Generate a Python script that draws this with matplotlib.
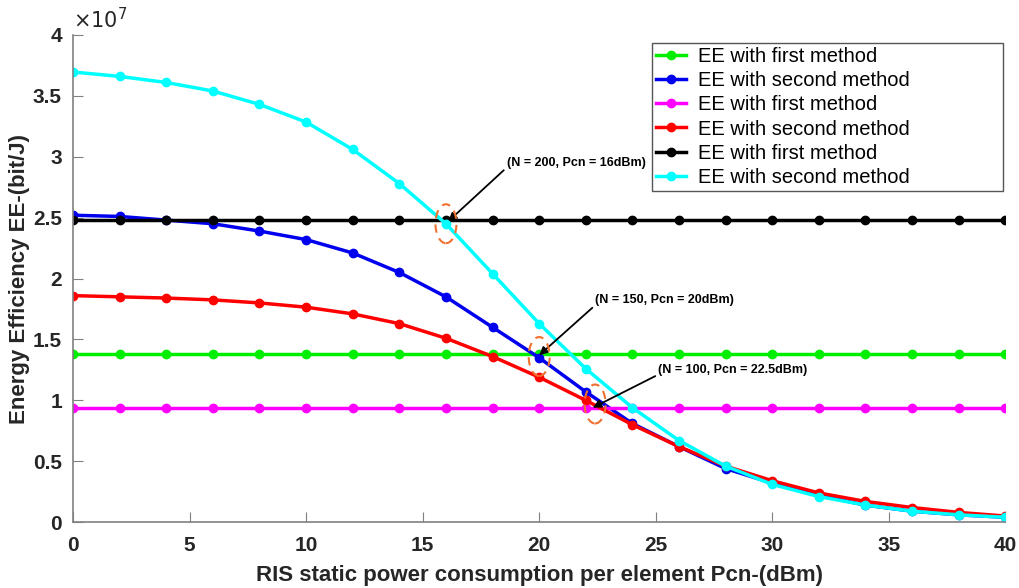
import matplotlib
matplotlib.use('Agg')
import matplotlib.pyplot as plt
from matplotlib.patches import Ellipse
from matplotlib.ticker import FuncFormatter

plt.rcParams['font.family'] = ['Liberation Sans', 'DejaVu Sans']

# RIS static power per element (dBm)
pcn = [0, 2, 4, 6, 8, 10, 12, 14, 16, 18, 20, 22, 24, 26, 28, 30, 32, 34, 36, 38, 40]

# energy efficiency, bit/J
ee_first_100 = [0.94e7] * len(pcn)
ee_first_150 = [1.38e7] * len(pcn)
ee_first_200 = [2.48e7] * len(pcn)
ee_second_100 = [1.86e7, 1.85e7, 1.84e7, 1.825e7, 1.80e7, 1.765e7, 1.71e7, 1.63e7, 1.51e7, 1.36e7,
                 1.19e7, 1.00e7, 0.80e7, 0.62e7, 0.46e7, 0.34e7, 0.24e7, 0.17e7, 0.12e7, 0.08e7, 0.05e7]
ee_second_150 = [2.52e7, 2.51e7, 2.48e7, 2.45e7, 2.39e7, 2.32e7, 2.21e7, 2.05e7, 1.85e7, 1.60e7,
                 1.35e7, 1.07e7, 0.81e7, 0.62e7, 0.44e7, 0.32e7, 0.22e7, 0.14e7, 0.09e7, 0.06e7, 0.04e7]
ee_second_200 = [3.696e7, 3.66e7, 3.61e7, 3.54e7, 3.43e7, 3.285e7, 3.06e7, 2.78e7, 2.45e7, 2.04e7,
                 1.63e7, 1.26e7, 0.94e7, 0.67e7, 0.46e7, 0.31e7, 0.21e7, 0.14e7, 0.09e7, 0.06e7, 0.04e7]

series = [
    (ee_first_150, '#00ee00', 'EE with first method'),
    (ee_second_150, '#0000ee', 'EE with second method'),
    (ee_first_100, '#ff00ff', 'EE with first method'),
    (ee_second_100, '#ff0000', 'EE with second method'),
    (ee_first_200, '#000000', 'EE with first method'),
    (ee_second_200, '#00ffff', 'EE with second method'),
]

# annotations: text position, arrow target
notes = [
    ('(N = 200, Pcn = 16dBm)', (18.6, 2.95e7), (16.1, 2.47e7)),
    ('(N = 150, Pcn = 20dBm)', (22.4, 1.82e7), (20.0, 1.37e7)),
    ('(N = 100, Pcn = 22.5dBm)', (25.1, 1.25e7), (22.3, 0.94e7)),
]
circles = [(16.0, 2.45e7), (20.0, 1.36e7), (22.4, 0.97e7)]

fig = plt.figure(figsize=(10.2, 5.88), dpi=100)
ax = fig.add_axes([0.0716, 0.112, 0.914, 0.8285])

for vals, c, lab in series:
    ax.plot(pcn, vals, color=c, lw=2.5, marker='o', ms=6, label=lab)

for cx, cy in circles:
    ax.add_patch(Ellipse((cx, cy), 0.9, 0.32e7, fill=False, ec='#f07030',
                         lw=1.5, ls=(0, (4, 3)), zorder=5))

for txt, xy_t, xy_a in notes:
    ax.annotate(txt, xy=xy_a, xytext=xy_t, fontsize=9, fontweight='bold',
                ha='left', va='center',
                arrowprops=dict(arrowstyle='-|>', color='black', lw=1.3,
                                mutation_scale=12, shrinkA=0, shrinkB=0,
                                relpos=(0.0, 0.1)))

ax.set_xlim(0, 40)
ax.set_ylim(0, 4e7)
ax.set_xticks(range(0, 41, 5))
ax.set_yticks([i * 0.5e7 for i in range(9)])
ax.yaxis.set_major_formatter(FuncFormatter(lambda v, p: '%g' % (v / 1e7)))
ax.text(0.0, 1.005, r'$\times10^{7}$', transform=ax.transAxes, fontsize=15,
        ha='left', va='bottom', color='#262626')

for s in ['top', 'right']:
    ax.spines[s].set_visible(False)
for s in ['left', 'bottom']:
    ax.spines[s].set_color('#808080')
    ax.spines[s].set_linewidth(1.2)
ax.tick_params(direction='in', length=7, color='#808080', labelsize=15,
               labelcolor='#262626')
ax.tick_params(axis='x', pad=10)
ax.tick_params(axis='y', pad=8)
for lb in ax.get_xticklabels() + ax.get_yticklabels():
    lb.set_fontweight('bold')

ax.set_xlabel('RIS static power consumption per element Pcn-(dBm)', fontsize=16,
              fontweight='bold', color='#262626', labelpad=7)
ax.set_ylabel('Energy Efficiency EE-(bit/J)', fontsize=16, fontweight='bold',
              color='#262626', labelpad=2)

leg = ax.legend(loc='upper left', bbox_to_anchor=(0.621, 0.984, 0.377, 0.0),
                mode='expand', fontsize=14.5,
                handlelength=1.5, handletextpad=0.6, labelspacing=0.26,
                borderpad=0.2, borderaxespad=0.0, fancybox=False, framealpha=1)
leg.get_frame().set_edgecolor('#555555')
leg.get_frame().set_linewidth(1.0)

fig.savefig('out.png', dpi=100)
